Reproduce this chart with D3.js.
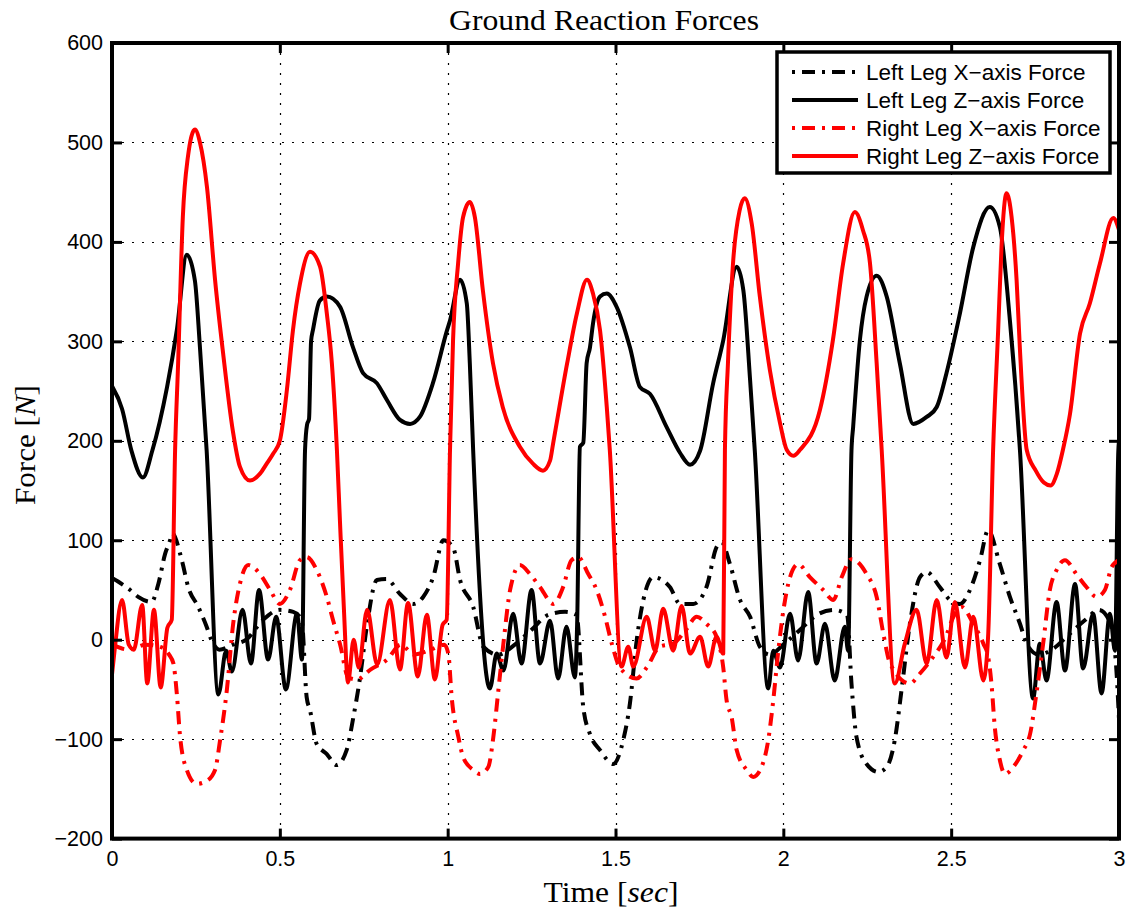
<!DOCTYPE html>
<html>
<head>
<meta charset="utf-8">
<script src="https://cdn.jsdelivr.net/npm/d3@7"></script>
<style>
  html, body { margin: 0; padding: 0; background: #fff; }
  svg { display: block; }
</style>
</head>
<body>
<svg id="chart" width="1136" height="916"></svg>
<script>
// ---- Data (time [s], force [N]) ----
const leftLegX = [
  [0,62],[0.054,50],[0.078,43],[0.118,38],[0.138,56],[0.158,86],[0.173,100],[0.179,107],[0.208,80],[0.227,53],
  [0.257,33],[0.282,13],[0.297,-1],[0.32,-10],[0.36,-5],[0.40,0],[0.45,20],[0.50,30],[0.54,28],[0.565,20],
  [0.580,-58],[0.590,-71],[0.610,-105],[0.640,-115],[0.669,-126],[0.699,-111],[0.719,-78],[0.739,-38],[0.759,13],
  [0.789,60],[0.818,61],[0.858,46],[0.898,36],[0.927,43],[0.957,63],[0.987,100],[1.017,92],[1.037,60],[1.076,33],
  [1.106,-7],[1.15,-15],[1.20,-5],[1.25,10],[1.30,25],[1.35,28],[1.384,25],[1.404,-68],[1.424,-95],[1.454,-111],
  [1.493,-125],[1.523,-101],[1.543,-64],[1.563,-1],[1.583,40],[1.612,63],[1.662,53],[1.692,36],[1.732,36],[1.771,53],
  [1.801,93],[1.816,98],[1.841,76],[1.871,40],[1.901,23],[1.930,-7],[1.96,-15],[2.0,-5],[2.05,10],[2.1,25],[2.15,30],
  [2.19,25],[2.203,-44],[2.218,-98],[2.248,-125],[2.283,-133],[2.308,-128],[2.332,-101],[2.352,-51],[2.377,16],
  [2.407,63],[2.427,68],[2.466,53],[2.496,40],[2.526,36],[2.556,50],[2.586,80],[2.610,110],[2.645,76],[2.675,43],
  [2.705,16],[2.725,-4],[2.76,-15],[2.8,-10],[2.85,5],[2.9,20],[2.94,30],[2.97,20],[2.99,-20],[3.0,-80]
];
const leftLegZ = [
  [0,255],[0.03,232],[0.058,190],[0.092,163],[0.12,190],[0.164,254],[0.193,311],[0.223,387],[0.247,361],
  [0.262,294],[0.282,190],[0.317,-55],[0.340,-11],[0.357,-32],[0.389,30],[0.414,-24],[0.438,50],[0.465,-20],[0.489,23],
  [0.518,-50],[0.551,26],[0.566,-20],[0.575,190],[0.581,216],[0.587,222],[0.593,300],[0.599,312],[0.619,341],[0.640,345],
  [0.679,335],[0.718,294],[0.748,268],[0.789,258],[0.819,241],[0.858,221],[0.888,217],[0.917,224],[0.956,258],[0.998,311],
  [1.007,321],[1.037,362],[1.057,338],[1.066,278],[1.076,190],[1.126,-49],[1.146,-14],[1.166,-31],[1.195,26],[1.220,-24],
  [1.250,50],[1.275,-24],[1.305,19],[1.329,-39],[1.354,13],[1.379,-38],[1.386,20],[1.394,194],[1.404,198],[1.414,278],
  [1.424,294],[1.433,318],[1.454,345],[1.474,348],[1.503,335],[1.543,294],[1.573,254],[1.603,247],[1.652,214],[1.692,188],
  [1.722,176],[1.752,190],[1.791,258],[1.821,301],[1.861,375],[1.881,351],[1.901,261],[1.915,190],[1.955,-49],[1.970,-11],
  [1.990,-28],[2.020,26],[2.044,-21],[2.074,48],[2.099,-24],[2.124,16],[2.153,-41],[2.183,13],[2.193,-11],[2.203,190],
  [2.208,214],[2.228,301],[2.248,345],[2.278,366],[2.308,345],[2.347,278],[2.387,217],[2.427,224],[2.457,234],[2.486,268],
  [2.526,328],[2.566,395],[2.615,435],[2.645,415],[2.675,321],[2.705,190],[2.744,-59],[2.764,-4],[2.784,-41],[2.814,38],
  [2.839,-31],[2.869,56],[2.893,-29],[2.923,26],[2.948,-54],[2.973,26],[2.988,-11],[2.998,190],[3.0,200]
];
const rightLegX = [
  [0,-5],[0.05,-10],[0.1,-5],[0.15,-8],[0.17,-15],[0.183,-24],[0.193,-54],[0.203,-98],[0.223,-131],[0.252,-145],
  [0.282,-142],[0.307,-131],[0.322,-101],[0.342,-51],[0.361,16],[0.381,56],[0.406,75],[0.441,66],[0.471,50],[0.500,36],
  [0.530,50],[0.560,80],[0.580,83],[0.610,70],[0.640,43],[0.659,19],[0.679,-4],[0.704,-38],[0.73,-40],[0.77,-30],
  [0.82,-20],[0.86,-5],[0.9,-15],[0.95,-10],[0.99,-5],[1.002,-14],[1.012,-58],[1.032,-98],[1.046,-118],[1.076,-131],
  [1.096,-135],[1.121,-128],[1.136,-98],[1.151,-51],[1.166,-4],[1.186,50],[1.215,75],[1.245,66],[1.275,53],[1.315,36],
  [1.344,53],[1.369,80],[1.389,83],[1.419,66],[1.444,50],[1.469,23],[1.489,-4],[1.513,-28],[1.563,-39],[1.593,-28],
  [1.632,-7],[1.672,-4],[1.71,10],[1.742,23],[1.771,16],[1.801,3],[1.821,-28],[1.831,-61],[1.846,-78],[1.861,-111],
  [1.891,-131],[1.910,-138],[1.935,-128],[1.955,-101],[1.970,-61],[1.985,-11],[2.000,29],[2.020,63],[2.044,76],[2.079,63],
  [2.119,50],[2.149,40],[2.174,63],[2.203,81],[2.248,66],[2.278,43],[2.298,6],[2.318,-24],[2.377,-44],[2.407,-34],
  [2.447,-17],[2.48,0],[2.51,25],[2.531,33],[2.566,16],[2.596,-4],[2.610,-17],[2.620,-44],[2.630,-88],[2.645,-121],
  [2.660,-135],[2.685,-128],[2.715,-111],[2.735,-95],[2.754,-54],[2.774,-4],[2.794,50],[2.814,70],[2.839,80],[2.873,66],
  [2.903,53],[2.933,43],[2.958,50],[2.978,73],[3.0,80]
];
const rightLegZ = [
  [0,-35],[0.008,-10],[0.03,40],[0.05,-5],[0.065,-10],[0.09,35],[0.105,-44],[0.125,30],[0.145,-48],[0.165,12],
  [0.178,20],[0.188,191],[0.197,278],[0.211,425],[0.226,485],[0.247,513],[0.262,500],[0.283,455],[0.307,362],[0.331,288],
  [0.360,210],[0.381,174],[0.411,160],[0.441,167],[0.461,177],[0.480,187],[0.500,200],[0.521,251],[0.539,311],[0.560,358],
  [0.590,390],[0.620,375],[0.640,328],[0.655,278],[0.670,191],[0.679,120],[0.691,30],[0.703,-43],[0.72,0],[0.735,-28],
  [0.76,30],[0.79,-25],[0.828,40],[0.858,-30],[0.882,37],[0.911,-37],[0.938,25],[0.962,-40],[0.985,15],[0.997,20],
  [1.007,191],[1.016,301],[1.031,378],[1.046,425],[1.066,440],[1.081,425],[1.105,351],[1.135,278],[1.164,234],[1.215,194],
  [1.254,177],[1.284,170],[1.305,180],[1.314,197],[1.356,278],[1.385,328],[1.415,362],[1.433,348],[1.454,311],[1.474,234],
  [1.483,191],[1.518,-27],[1.538,-7],[1.553,-27],[1.593,23],[1.618,-11],[1.642,31],[1.672,-11],[1.697,34],[1.722,-14],
  [1.752,3],[1.776,-27],[1.801,3],[1.821,-14],[1.826,191],[1.835,278],[1.850,378],[1.870,432],[1.885,444],[1.906,418],
  [1.930,345],[1.960,271],[1.990,218],[2.010,191],[2.030,185],[2.050,191],[2.109,231],[2.148,302],[2.178,378],[2.213,430],
  [2.237,412],[2.258,379],[2.278,278],[2.293,191],[2.332,-44],[2.362,-4],[2.397,30],[2.427,-24],[2.457,40],[2.486,-18],
  [2.511,38],[2.541,-28],[2.566,23],[2.596,-41],[2.610,3],[2.625,191],[2.640,311],[2.650,395],[2.665,449],[2.680,425],
  [2.695,361],[2.705,291],[2.725,191],[2.752,170],[2.776,158],[2.796,155],[2.815,167],[2.833,191],[2.854,227],[2.884,308],
  [2.913,338],[2.943,378],[2.983,424],[3.0,412]
];

const xTicks = [0, 0.5, 1, 1.5, 2, 2.5, 3];
const yTicks = [-200, -100, 0, 100, 200, 300, 400, 500, 600];
const seriesNames = ["Left Leg X\u2212axis Force", "Left Leg Z\u2212axis Force", "Right Leg X\u2212axis Force", "Right Leg Z\u2212axis Force"];
const seriesColors = ["#000000", "#000000", "#ff0000", "#ff0000"];
const seriesDashed = [true, false, true, false];
const seriesData = [leftLegX, leftLegZ, rightLegX, rightLegZ];
const titleText = "Ground Reaction Forces";

// ---- Layout ----
const L = 112, R = 1119, T = 43, B = 838.6;
const svg = d3.select("#chart");
svg.append("rect").attr("width", 1136).attr("height", 916).attr("fill", "#fff");

const x = d3.scaleLinear().domain([0, 3]).range([L, R]);
const y = d3.scaleLinear().domain([-200, 600]).range([B, T]);

// grid
const grid = svg.append("g").attr("stroke", "#000").attr("stroke-width", 1.2).attr("stroke-dasharray", "2,8");
grid.selectAll("line.vx").data(xTicks.filter(d => d > 0 && d < 3)).enter().append("line")
  .attr("x1", d => Math.round(x(d)) + 0.5).attr("x2", d => Math.round(x(d)) + 0.5)
  .attr("y1", T).attr("y2", B);
grid.selectAll("line.hy").data(yTicks.filter(d => d > -200 && d < 600)).enter().append("line")
  .attr("y1", d => Math.round(y(d)) + 0.5).attr("y2", d => Math.round(y(d)) + 0.5)
  .attr("x1", L).attr("x2", R);

// clip
svg.append("clipPath").attr("id", "clip").append("rect")
  .attr("x", L).attr("y", T).attr("width", R - L).attr("height", B - T);

// lines
const line = d3.line().x(d => x(d[0])).y(d => y(d[1])).curve(d3.curveMonotoneX);
const plot = svg.append("g").attr("clip-path", "url(#clip)");
seriesData.forEach((data, i) => {
  plot.append("path").datum(data)
    .attr("d", line)
    .attr("fill", "none")
    .attr("stroke", seriesColors[i])
    .attr("stroke-width", 4)
    .attr("stroke-linejoin", "round")
    .attr("stroke-dasharray", seriesDashed[i] ? "13,7,3,7" : null);
});

// axes
const tickFont = "'Liberation Sans', Arial, Helvetica, sans-serif";
const axB = svg.append("g").attr("transform", `translate(0,${B})`)
  .call(d3.axisBottom(x).tickValues(xTicks).tickSize(-10).tickPadding(12).tickFormat(d3.format("")));
const axL = svg.append("g").attr("transform", `translate(${L},0)`)
  .call(d3.axisLeft(y).tickValues(yTicks).tickSize(-10).tickPadding(9).tickFormat(d3.format("")));
const axT = svg.append("g").attr("transform", `translate(0,${T})`)
  .call(d3.axisTop(x).tickValues(xTicks).tickSize(-10).tickFormat(""));
const axR = svg.append("g").attr("transform", `translate(${R},0)`)
  .call(d3.axisRight(y).tickValues(yTicks).tickSize(-10).tickFormat(""));
[axB, axL, axT, axR].forEach(g => {
  g.select(".domain").remove();
  g.selectAll(".tick line").attr("stroke", "#000").attr("stroke-width", 3);
  g.selectAll(".tick text").attr("fill", "#000").style("font-family", tickFont).style("font-size", "21.5px");
});
axB.selectAll(".tick text").attr("dy", "0.71em");

// frame
svg.append("rect").attr("x", L).attr("y", T).attr("width", R - L).attr("height", B - T)
  .attr("fill", "none").attr("stroke", "#000").attr("stroke-width", 4);

// title & axis labels
const serif = "'Liberation Serif', 'Times New Roman', serif";
svg.append("text").attr("x", 604).attr("y", 30).attr("text-anchor", "middle")
  .style("font-family", serif).style("font-size", "29px")
  .attr("textLength", 310).attr("lengthAdjust", "spacingAndGlyphs")
  .text(titleText);

const xl = svg.append("text").attr("x", 611).attr("y", 902).attr("text-anchor", "middle")
  .style("font-family", serif).style("font-size", "29px")
  .attr("textLength", 135).attr("lengthAdjust", "spacingAndGlyphs");
xl.append("tspan").text("Time [");
xl.append("tspan").style("font-style", "italic").text("sec");
xl.append("tspan").text("]");

const yl = svg.append("text").attr("transform", "translate(35,445) rotate(-90)").attr("text-anchor", "middle")
  .style("font-family", serif).style("font-size", "29px")
  .attr("textLength", 120).attr("lengthAdjust", "spacingAndGlyphs");
yl.append("tspan").text("Force [");
yl.append("tspan").style("font-style", "italic").text("N");
yl.append("tspan").text("]");

// legend
const lg = svg.append("g");
lg.append("rect").attr("x", 777).attr("y", 52).attr("width", 333).attr("height", 121)
  .attr("fill", "#fff").attr("stroke", "#000").attr("stroke-width", 3.5);
const rowY = d3.scalePoint().domain(d3.range(seriesNames.length)).range([72, 156]);
seriesNames.forEach((name, i) => {
  lg.append("line").attr("x1", 792).attr("x2", 858).attr("y1", rowY(i)).attr("y2", rowY(i))
    .attr("stroke", seriesColors[i]).attr("stroke-width", 4)
    .attr("stroke-dasharray", seriesDashed[i] ? "3,7,13,7" : null);
  lg.append("text").attr("x", 866).attr("y", rowY(i) + 8)
    .style("font-family", tickFont).style("font-size", "22.5px").attr("fill", "#000")
    .text(name);
});
</script>
</body>
</html>
